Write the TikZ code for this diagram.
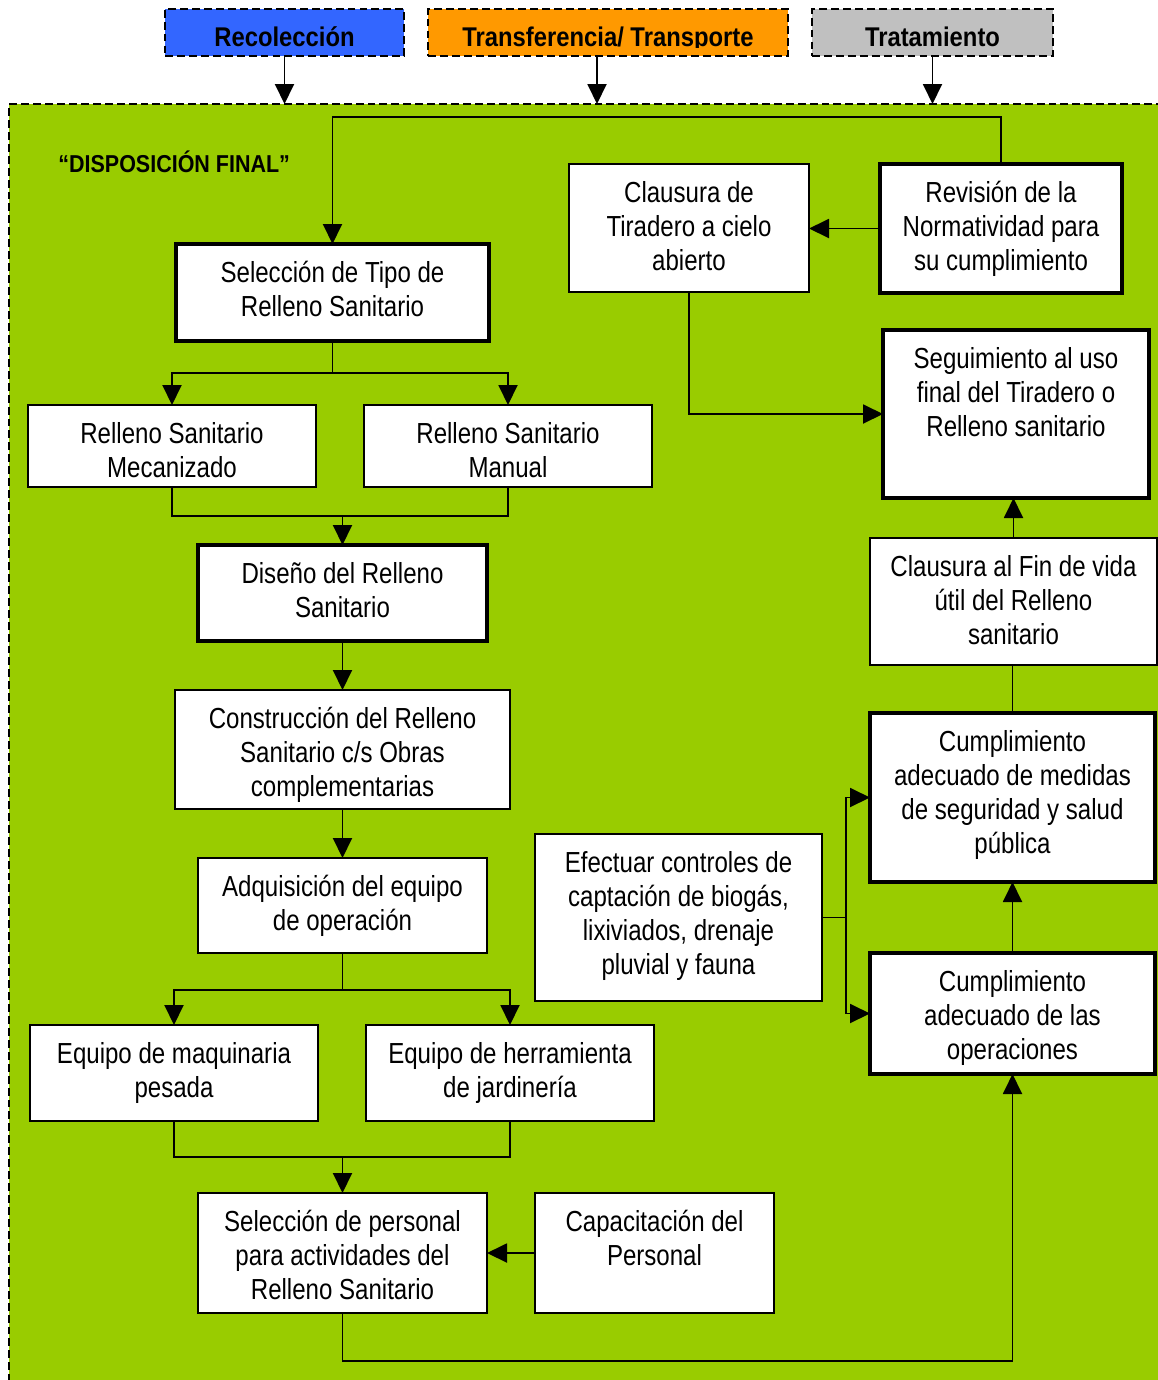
\documentclass[tikz,border=0pt]{standalone}
\usepackage{fontspec}
\setmainfont{Liberation Sans}[FakeStretch=0.83]
\newfontfamily\hdfont{Liberation Sans}[FakeStretch=0.88]
\usetikzlibrary{arrows.meta}
\newlength\px
\setlength\px{0.02cm}
\definecolor{zonaverde}{RGB}{153,204,0}
\definecolor{azulrec}{RGB}{51,102,255}
\definecolor{naranjatr}{RGB}{255,153,0}
\definecolor{gristrat}{RGB}{192,192,192}
% box contents: width, height (in px units), lines of text set from the top
\newcommand\caja[3]{\parbox[c][#2\px][t]{#1\px}{\centering\vspace*{15\px}\strut #3}}
\begin{document}
\begin{tikzpicture}[x=0.02cm, y=-0.02cm,
  box/.style={draw=black, fill=white, line width=0.9pt, inner sep=0pt, outer sep=0pt,
    anchor=north west, font=\fontsize{16.5}{19.35}\selectfont},
  boxthick/.style={box, line width=2pt},
  hdr/.style={draw=black, dash pattern=on 4.5pt off 2.3pt, line width=0.8pt, inner sep=0pt,
    outer sep=0pt, anchor=north west, text height=37\px, text depth=10\px,
    font=\hdfont\bfseries\fontsize{15.4}{18}\selectfont},
  ln/.style={line width=1.1pt},
  arr/.style={line width=1.1pt, -{Triangle[length=0.4cm,width=0.38cm]}}]
\useasboundingbox (0,0) rectangle (1158,1380);
\clip (0,0) rectangle (1158,1380);

% stage headers
\node[hdr, fill=azulrec, minimum width=239\px] (hRec) at (165,9) {Recolección};
\node[hdr, fill=naranjatr, minimum width=360\px, minimum height=47\px] (hTra) at (428,9) {};
\begin{scope}
  \clip (428,9) rectangle (788,47);
  \node[anchor=base, inner sep=0pt, font=\hdfont\bfseries\fontsize{15.4}{18}\selectfont]
    (hTraTxt) at (608,46) {Transferencia/ Transporte};
\end{scope}
\node[hdr, fill=gristrat, minimum width=241\px] (hTrat) at (812,9) {Tratamiento};

% final disposal area
\node[draw=black, dash pattern=on 4.5pt off 2.3pt, line width=0.8pt, fill=zonaverde,
  inner sep=0pt, outer sep=0pt, anchor=north west,
  minimum width=1170\px, minimum height=1300\px] (zona) at (9,104) {};

\draw[arr] (hRec.south) -- (hRec.south |- zona.north);
\draw[arr] ([xshift=-11\px]hTra.south) -- ([xshift=-11\px]hTra.south |- zona.north);
\draw[arr] (hTrat.south) -- (hTrat.south |- zona.north);

\node[anchor=base west, inner sep=0pt, font=\hdfont\bfseries\fontsize{13.9}{16}\selectfont]
  (titulo) at (58,172) {“DISPOSICIÓN FINAL”};

% process boxes
\node[box] (clTir) at (569,164) {\caja{240}{128}{Clausura de\\Tiradero a cielo\\abierto}};
\node[boxthick] (rev) at (880,164) {\caja{242}{129}{Revisión de la\\Normatividad para\\su cumplimiento}};
\node[boxthick] (selTipo) at (176,244) {\caja{313}{97}{Selección de Tipo de\\Relleno Sanitario}};
\node[boxthick] (seg) at (883,330) {\caja{266}{168}{Seguimiento al uso\\final del Tiradero o\\Relleno sanitario}};
\node[box] (mec) at (28,405) {\caja{288}{82}{Relleno Sanitario\\Mecanizado}};
\node[box] (man) at (364,405) {\caja{288}{82}{Relleno Sanitario\\Manual}};
\node[boxthick] (dis) at (198,545) {\caja{289}{96}{Diseño del Relleno\\Sanitario}};
\node[box] (clFin) at (870,538) {\caja{287}{127}{Clausura al Fin de vida\\útil del Relleno\\sanitario}};
\node[box] (con) at (175,690) {\caja{335}{119}{Construcción del Relleno\\Sanitario c/s Obras\\complementarias}};
\node[boxthick] (med) at (870,713) {\caja{285}{169}{Cumplimiento\\adecuado de medidas\\de seguridad y salud\\pública}};
\node[box] (efe) at (535,834) {\caja{287}{167}{Efectuar controles de\\captación de biogás,\\lixiviados, drenaje\\pluvial y fauna}};
\node[box] (adq) at (198,858) {\caja{289}{95}{Adquisición del equipo\\de operación}};
\node[boxthick] (ope) at (870,953) {\caja{285}{121}{Cumplimiento\\adecuado de las\\operaciones}};
\node[box] (maq) at (30,1025) {\caja{288}{96}{Equipo de maquinaria\\pesada}};
\node[box] (her) at (366,1025) {\caja{288}{96}{Equipo de herramienta\\de jardinería}};
\node[box] (per) at (198,1193) {\caja{289}{120}{Selección de personal\\para actividades del\\Relleno Sanitario}};
\node[box] (cap) at (535,1193) {\caja{239}{120}{Capacitación del\\Personal}};

% connectors
\draw[arr] (rev.north) -- ++(0,-47) -| (selTipo.north);
\draw[arr] (rev.west) -- (rev.west -| clTir.east);
\draw[arr] (clTir.south) |- (seg.west);

\draw[ln] (selTipo.south) -- ++(0,32) coordinate (jTipo);
\draw[arr] (jTipo) -| (mec.north);
\draw[arr] (jTipo) -| (man.north);

\draw[ln] (mec.south) -- ++(0,29) coordinate (jRell) -| (man.south);
\draw[arr] (jRell -| dis.north) -- (dis.north);
\draw[arr] (dis.south) -- (con.north);
\draw[arr] (con.south) -- (adq.north);

\draw[ln] (adq.south) -- ++(0,37) coordinate (jEq);
\draw[arr] (jEq) -| (maq.north);
\draw[arr] (jEq) -| (her.north);

\draw[ln] (maq.south) -- ++(0,36) coordinate (jEq2) -| (her.south);
\draw[arr] (jEq2 -| per.north) -- (per.north);
\draw[arr] (cap.west) -- (cap.west -| per.east);

\draw[arr] (per.south) -- ++(0,48) -| (ope.south);
\draw[arr] (ope.north) -- (med.south);

\draw[ln] (efe.east) -- ++(24,0) coordinate (jCtrl);
\draw[arr] (jCtrl) |- (med.west);
\draw[arr] (jCtrl) |- (ope.west);

\draw[ln] (med.north) -- (med.north |- clFin.south);
\draw[arr] (clFin.north) -- (clFin.north |- seg.south);
\end{tikzpicture}
\end{document}
